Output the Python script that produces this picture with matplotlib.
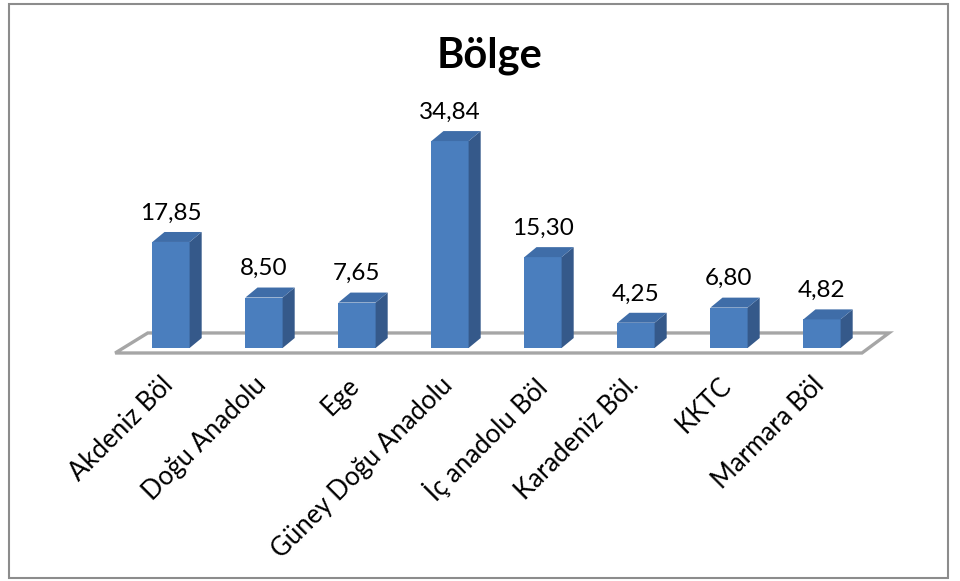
import matplotlib
matplotlib.use('Agg')
import matplotlib.pyplot as plt
from matplotlib.patches import Polygon, Rectangle

categories = ["Akdeniz Böl", "Doğu Anadolu", "Ege", "Güney Doğu Anadolu",
              "İç anadolu Böl", "Karadeniz Böl.", "KKTC", "Marmara Böl"]
values = [17.85, 8.50, 7.65, 34.84, 15.30, 4.25, 6.80, 4.82]
value_labels = ["17,85", "8,50", "7,65", "34,84", "15,30", "4,25", "6,80", "4,82"]
title = "Bölge"

plt.rcParams['font.family'] = ['Lato', 'DejaVu Sans']

W, H = 960, 581
fig = plt.figure(figsize=(9.6, 5.81), dpi=100)
ax = fig.add_axes([0, 0, 1, 1])
px_per_cat = 93.0
x0px = 171.0
base_py = 348.0
px_per_val = 5.94
ax.set_xlim(-x0px / px_per_cat, (W - x0px) / px_per_cat)
ax.set_ylim((base_py - H) / px_per_val, base_py / px_per_val)
ax.axis('off')

# outer frame
fig.patches.append(Rectangle((9 / W, (H - 578) / H), (948 - 9) / W, (578 - 4) / H,
                             transform=fig.transFigure, fill=False,
                             ec='#8c8c8c', lw=1.5))

n = len(values)
# floor
floor = Polygon([(-0.60, -0.84), (n - 1 + 0.43, -0.84), (n - 1 + 0.72, 2.53), (-0.25, 2.53)],
                closed=True, fc='white', ec='#A6A6A6', lw=2.4, zorder=1)
ax.add_patch(floor)

w = 0.40
dx = 0.13
dy = 1.68
front_c = '#4A7EBE'
side_c = '#35598A'
top_c = '#3F6DA8'
for i, v in enumerate(values):
    ax.bar(i, v, width=w, color=front_c, zorder=3)
    side = Polygon([(i + w / 2, 0), (i + w / 2 + dx, dy), (i + w / 2 + dx, v + dy), (i + w / 2, v)],
                   closed=True, fc=side_c, ec='none', zorder=3)
    top = Polygon([(i - w / 2, v), (i + w / 2, v), (i + w / 2 + dx, v + dy), (i - w / 2 + dx, v + dy)],
                  closed=True, fc=top_c, ec='none', zorder=3)
    ax.add_patch(side)
    ax.add_patch(top)
    ax.annotate(value_labels[i], (i, v + dy), xytext=(0, 6), textcoords='offset points',
                ha='center', va='bottom', fontsize=17.5, color='black', zorder=5)
    ax.text(i - 0.11, -4.1, categories[i], rotation=45, ha='right', va='top',
            rotation_mode='anchor', fontsize=18.5, color='black')

fig.text(490 / W, 1 - 56 / H, title, ha='center', va='center', fontsize=30,
         fontweight='bold', color='black')

fig.savefig('out.png', dpi=100, facecolor='white')
